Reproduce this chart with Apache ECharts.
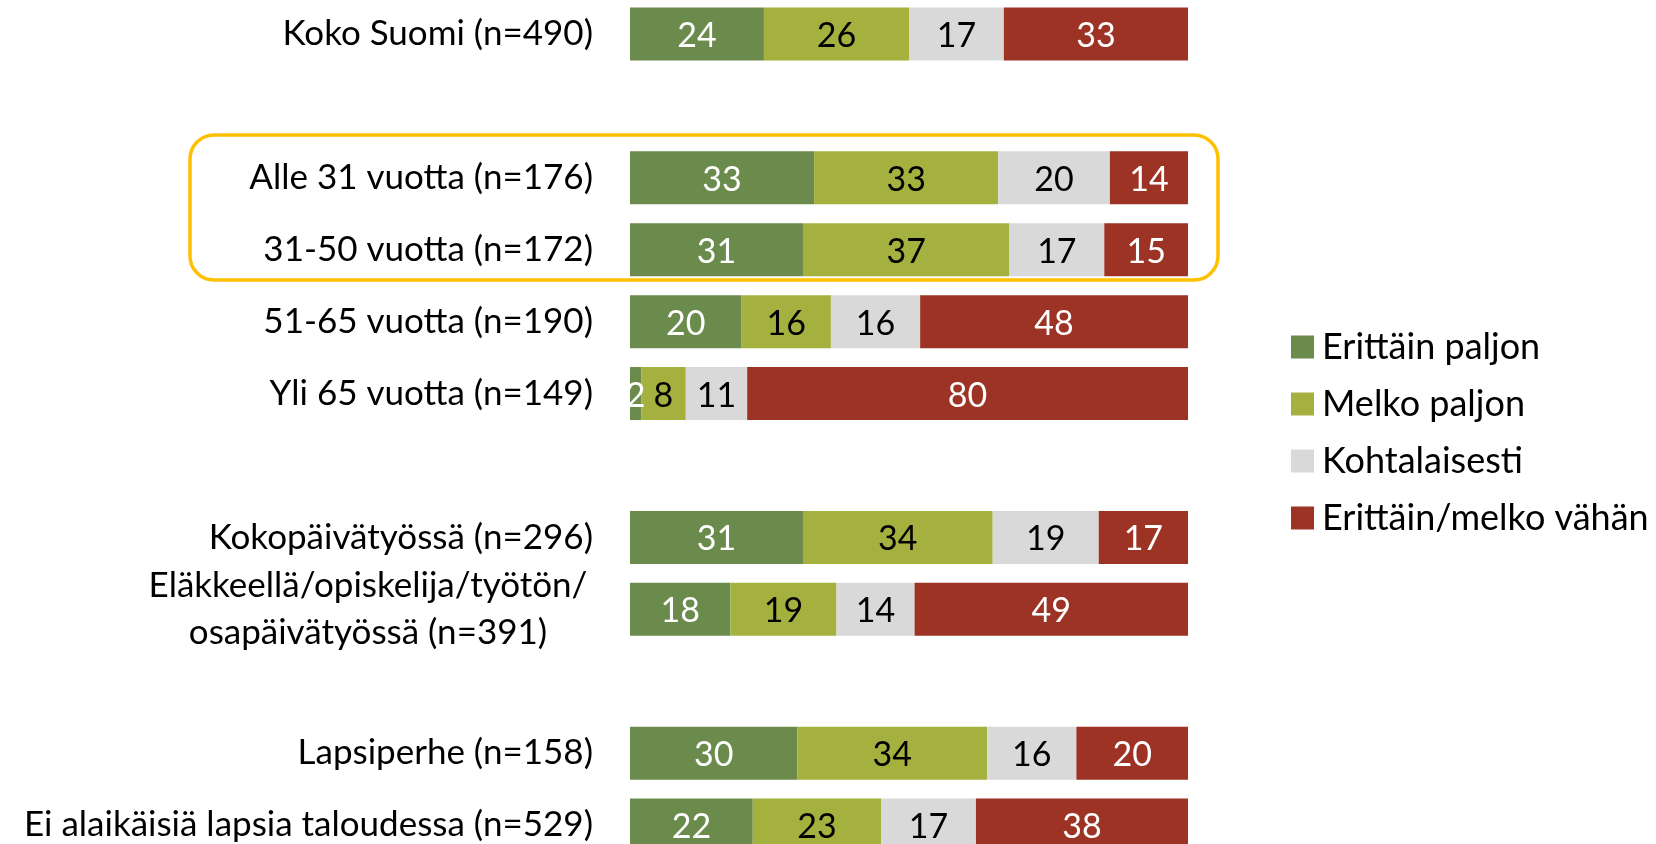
<!DOCTYPE html>
<html>
<head>
<meta charset="utf-8">
<script src="https://cdn.jsdelivr.net/npm/echarts@6/dist/echarts.min.js"></script>
<style>
  html, body { margin: 0; padding: 0; background: #ffffff; }
  #chart { width: 1656px; height: 844px; }
</style>
</head>
<body>
<div id="chart"></div>
<script>
// Row labels (empty strings are spacer rows between groups)
const categories = [
  'Koko Suomi (n=490)',
  '',
  'Alle 31 vuotta (n=176)',
  '31-50 vuotta (n=172)',
  '51-65 vuotta (n=190)',
  'Yli 65 vuotta (n=149)',
  '',
  'Kokopäivätyössä (n=296)',
  'Eläkkeellä/opiskelija/työtön/\nosapäivätyössä (n=391)',
  '',
  'Lapsiperhe (n=158)',
  'Ei alaikäisiä lapsia taloudessa (n=529)'
];

const seriesNames = ['Erittäin paljon', 'Melko paljon', 'Kohtalaisesti', 'Erittäin/melko vähän'];

// Percentages per row, '-' for spacer rows
const erittainPaljon = [24, '-', 33, 31, 20, 2, '-', 31, 18, '-', 30, 22];
const melkoPaljon    = [26, '-', 33, 37, 16, 8, '-', 34, 19, '-', 34, 23];
const kohtalaisesti  = [17, '-', 20, 17, 16, 11, '-', 19, 14, '-', 16, 17];
const vahan          = [33, '-', 14, 15, 48, 80, '-', 17, 49, '-', 20, 38];

const colors = ['#6B8B4D', '#A4B13E', '#D9D9D9', '#9C3324'];
const labelColors = ['#ffffff', '#000000', '#000000', '#ffffff'];
const FONT = 'Lato, "Open Sans", sans-serif';

const dataSets = [erittainPaljon, melkoPaljon, kohtalaisesti, vahan];

const series = dataSets.map((d, i) => ({
  name: seriesNames[i],
  type: 'bar',
  stack: 'total',
  data: d,
  barWidth: 53,
  clip: true,
  itemStyle: { color: colors[i] },
  label: {
    show: true,
    position: 'inside',
    offset: [0, 2],
    color: labelColors[i],
    fontFamily: FONT,
    fontSize: 34
  },
  emphasis: { disabled: true }
}));

const chart = echarts.init(document.getElementById('chart'));
chart.setOption({
  animation: false,
  backgroundColor: '#ffffff',
  grid: {
    left: 630, right: 468, top: -2, height: 863,
    containLabel: false,
    outerBoundsMode: 'none'
  },
  xAxis: {
    type: 'value', min: 0, max: 100,
    show: false
  },
  yAxis: {
    type: 'category',
    inverse: true,
    data: categories,
    axisLine: { show: false },
    axisTick: { show: false },
    splitLine: { show: false },
    axisLabel: {
      margin: 37,
      color: '#000000',
      fontFamily: FONT,
      fontSize: 35,
      formatter: function (v) {
        if (v.indexOf('\n') >= 0) return '{c|' + v + '}';
        return v;
      },
      rich: {
        c: { width: 450, align: 'center', lineHeight: 47, fontFamily: FONT, fontSize: 35, color: '#000000' }
      }
    }
  },
  legend: {
    orient: 'vertical',
    left: 1286,
    top: 324,
    icon: 'rect',
    itemWidth: 23,
    itemHeight: 23,
    itemGap: 21,
    selectedMode: false,
    data: seriesNames,
    textStyle: {
      fontFamily: FONT,
      fontSize: 36,
      lineHeight: 34,
      color: '#000000',
      padding: [0, 0, 0, 3]
    }
  },
  graphic: [{
    type: 'rect',
    shape: { x: 190, y: 135, width: 1028, height: 145, r: 24 },
    style: { fill: 'none', stroke: '#FFC000', lineWidth: 3.5 },
    z: 10
  }],
  series: series
});
</script>
</body>
</html>
